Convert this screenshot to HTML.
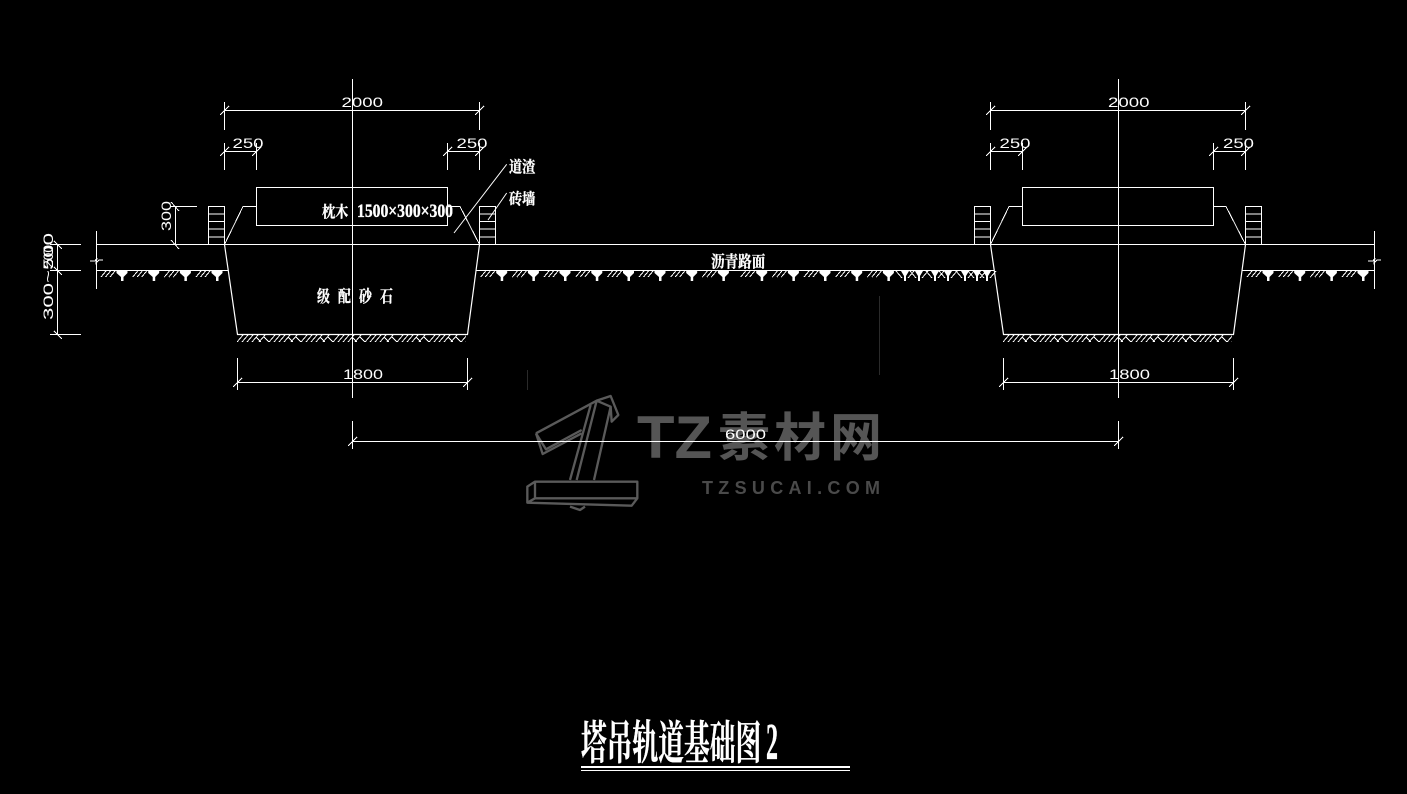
<!DOCTYPE html>
<html lang="zh">
<head>
<meta charset="utf-8">
<title>塔吊轨道基础图2</title>
<style>
html,body{margin:0;padding:0;background:#000;width:1407px;height:794px;overflow:hidden}
svg{display:block}
.l{fill:none;stroke:#fff;stroke-width:1;shape-rendering:crispEdges}
.d{font-family:"Liberation Sans",sans-serif;font-size:14px;fill:#fff}
.c{font-family:"Liberation Serif","Noto Serif CJK SC",serif;font-weight:700;fill:#fff;stroke:#fff;stroke-width:.35}
</style>
</head>
<body>
<svg width="1407" height="794" viewBox="0 0 1407 794" xmlns="http://www.w3.org/2000/svg">
<defs>
<g id="unit">
<path class="l" d="M-21 277L-16 271M-16.5 277L-11.5 271M-12 277L-7 271"/>
<path d="M-5.5 271H5.5V273L1.5 277V281H-1V277L-5.5 273Z" fill="#fff"/>
</g>
<g id="mess">
<path d="M-4 271H4L1 276V281H-1V276Z" fill="#fff"/>
<path class="l" d="M-9 271L-3 278M9 271L3 278"/>
</g>
<pattern id="hatch" x="237" y="335" width="32" height="8" patternUnits="userSpaceOnUse">
<path class="l" d="M0 7L6 0M5 7L11 0M10 7L16 0M15 7L21 0M19 2L24 7M22 7L28 0M27 2L32 7"/>
</pattern>
<g id="section">
<path class="l" d="M224.5 102V130M479.5 102V130M224.5 110.5H479.5M220 115L229 106M475 115L484 106"/>
<path class="l" d="M224.5 143V170M256.5 143V170M224.5 151.5H256.5M220 156L229 147M252 156L261 147"/>
<path class="l" d="M447.5 143V170M479.5 143V170M447.5 151.5H479.5M443 156L452 147M475 156L484 147"/>
<rect class="l" x="256.5" y="187.5" width="191" height="38"/>
<path class="l" d="M224.5 244.5L243 206.5H256.5M447.5 206.5H460L479.5 244.5"/>
<path class="l" d="M208.5 244.5V206.5H224.5V244.5M208.5 214H224.5M208.5 221.5H224.5M208.5 229H224.5M208.5 237H224.5"/>
<path class="l" d="M479.5 244.5V206.5H495.5V244.5M479.5 214H495.5M479.5 221.5H495.5M479.5 229H495.5M479.5 237H495.5"/>
<path d="M224.5 244.5L237.5 334.5H467.5L479.5 244.5" fill="none" stroke="#fff" stroke-width="1.2"/>
<rect x="237" y="335" width="229" height="8" fill="url(#hatch)"/>
<path class="l" d="M352.5 79V398"/>
<path class="l" d="M237.5 358V390M467.5 358V390M237.5 382.5H467.5M233 387L242 378M463 387L472 378"/>
</g>
</defs>
<rect width="1407" height="794" fill="#000"/>

<!-- watermark -->
<g fill="none" stroke="#5a5a5a" stroke-width="7" transform="translate(520 390) scale(.3333)" stroke-linejoin="round">
<path d="M48 130L230 32L272 18L295 75L275 95L272 50L230 32"/>
<path d="M48 130L68 192L185 130"/>
<path d="M48 130L78 178L185 120"/>
<path d="M212 45L150 270M230 32L170 270M272 50L222 270"/>
<path d="M45 275H352V325H45ZM45 275L22 290V338L45 325M22 338L335 347L352 325M150 350L180 360L195 350"/>
</g>
<text x="637" y="458" font-family="'Liberation Sans',sans-serif" font-weight="700" font-size="60" fill="#555" textLength="75" lengthAdjust="spacingAndGlyphs">TZ</text>
<text x="718" y="456" font-family="'Liberation Sans','Noto Sans CJK SC',sans-serif" font-weight="700" font-size="52" fill="#555" textLength="164">素材网</text>
<text x="702" y="494" font-family="'Liberation Sans',sans-serif" font-weight="700" font-size="18" fill="#4a4a4a" textLength="178">TZSUCAI.COM</text>
<path d="M879.5 296V375M527.5 370V390" stroke="#2a2a2a" fill="none" shape-rendering="crispEdges"/>

<use href="#section"/>
<use href="#section" transform="translate(766 0)"/>

<!-- road and ground -->
<path class="l" d="M96.5 244.5H1374.5M97 270.5H228M476 270.5H994M1242 270.5H1375M96.5 231V289M1374.5 231V289"/>
<path class="l" d="M90 261H95L97 258L96 263L99 260H103M1368 261H1373L1375 258L1374 263L1377 260H1381"/>
<use href="#unit" x="122"/><use href="#unit" x="153.7"/><use href="#unit" x="185.4"/><use href="#unit" x="217"/>
<use href="#unit" x="501.7"/><use href="#unit" x="533.4"/><use href="#unit" x="565"/><use href="#unit" x="596.8"/>
<use href="#unit" x="628.5"/><use href="#unit" x="660"/><use href="#unit" x="691.7"/><use href="#unit" x="723.4"/>
<use href="#unit" x="761.7"/><use href="#unit" x="793.4"/><use href="#unit" x="825"/><use href="#unit" x="856.7"/><use href="#unit" x="888.4"/>
<use href="#mess" x="905"/><use href="#mess" x="919"/><use href="#mess" x="935"/><use href="#mess" x="948"/><use href="#mess" x="965"/><use href="#mess" x="977"/><use href="#mess" x="987"/>
<use href="#unit" x="1268"/><use href="#unit" x="1299.7"/><use href="#unit" x="1331.4"/><use href="#unit" x="1363"/>

<!-- side dimensions -->
<path class="l" d="M175.5 206.5V244.5M171 202L179 211M171 240L179 249M170 206.5H197"/>
<path class="l" d="M57.5 244.5V334.5M50 244.5H81M50 270.5H81M50 334.5H81M54 241L62 249M54 267L62 275M54 331L62 339"/>

<!-- 6000 dimension -->
<path class="l" d="M352.5 421V449M1118.5 421V449M352.5 441.5H1118.5M348 446L357 437M1114 446L1123 437"/>

<!-- leaders -->
<path d="M506.7 164.3L454 233M506.7 193L488 220" fill="none" stroke="#fff" stroke-width="1"/>

<!-- dimension text -->
<text class="d" x="341.5" y="107" textLength="41.5" lengthAdjust="spacingAndGlyphs">2000</text>
<text class="d" x="1108" y="107" textLength="41.5" lengthAdjust="spacingAndGlyphs">2000</text>
<text class="d" x="232.5" y="148" textLength="31" lengthAdjust="spacingAndGlyphs">250</text>
<text class="d" x="456.5" y="148" textLength="31" lengthAdjust="spacingAndGlyphs">250</text>
<text class="d" x="999.5" y="148" textLength="31" lengthAdjust="spacingAndGlyphs">250</text>
<text class="d" x="1223" y="148" textLength="31" lengthAdjust="spacingAndGlyphs">250</text>
<text class="d" x="343" y="379" textLength="40" lengthAdjust="spacingAndGlyphs">1800</text>
<text class="d" x="1109" y="379" textLength="41" lengthAdjust="spacingAndGlyphs">1800</text>
<text class="d" x="725" y="439" textLength="41" lengthAdjust="spacingAndGlyphs">6000</text>
<text class="d" transform="translate(171 231) rotate(-90)" textLength="30" lengthAdjust="spacingAndGlyphs">300</text>
<text class="d" transform="translate(53 320) rotate(-90)" textLength="87" lengthAdjust="spacingAndGlyphs">300~500</text>
<text class="d" transform="translate(53 268) rotate(-90)" textLength="23" lengthAdjust="spacingAndGlyphs">200</text>

<!-- Chinese labels -->
<text class="c" transform="translate(322 217) scale(.85 1)" font-size="15.5">枕木</text>
<text class="c" x="357" y="217" font-size="19" textLength="96" lengthAdjust="spacingAndGlyphs">1500×300×300</text>
<text class="c" transform="translate(509 172) scale(.85 1)" font-size="15.5">道渣</text>
<text class="c" transform="translate(509 204) scale(.85 1)" font-size="15.5">砖墙</text>
<text class="c" transform="translate(711 267) scale(.85 1)" font-size="16">沥青路面</text>
<text class="c" transform="translate(317 302) scale(.78 1)" font-size="16.5">级</text>
<text class="c" transform="translate(338 302) scale(.78 1)" font-size="16.5">配</text>
<text class="c" transform="translate(359 302) scale(.78 1)" font-size="16.5">砂</text>
<text class="c" transform="translate(380 302) scale(.78 1)" font-size="16.5">石</text>

<!-- title -->
<text class="c" transform="translate(581 759) scale(.56 1)" font-size="46">塔吊轨道基础图</text>
<text class="c" x="766" y="759" font-size="52" textLength="12" lengthAdjust="spacingAndGlyphs">2</text>
<path d="M581 767H850" stroke="#fff" stroke-width="2" shape-rendering="crispEdges"/>
<path d="M581 770.5H850" stroke="#fff" stroke-width="1" shape-rendering="crispEdges"/>
</svg>
</body>
</html>
